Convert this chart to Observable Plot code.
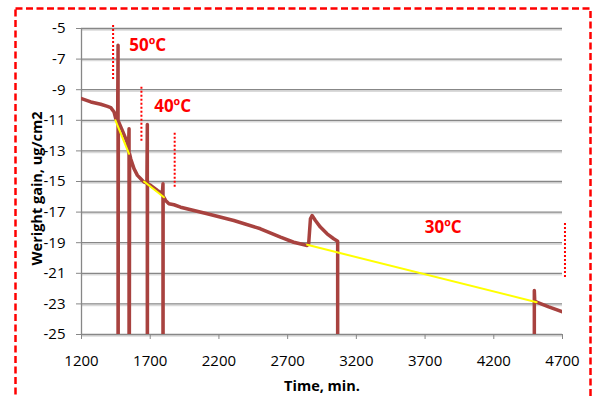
<!DOCTYPE html>
<html>
<head>
<meta charset="utf-8">
<script src="https://cdn.jsdelivr.net/npm/d3@7"></script>
<script src="https://cdn.jsdelivr.net/npm/@observablehq/plot@0.6"></script>
<style>
  html, body { margin: 0; padding: 0; background: #fff; overflow: hidden; }
  #chart svg { display: block; }
</style>
</head>
<body>
<div id="chart"></div>
<script>
// Axis ticks
const xTicks = [1200, 1700, 2200, 2700, 3200, 3700, 4200, 4700];
const yTicks = [-25, -23, -21, -19, -17, -15, -13, -11, -9, -7, -5];

// Measured series (time, min / weight gain, ug/cm2); -40 = off-scale low readings
const times = [1200, 1268, 1340, 1389, 1413, 1437, 1449, 1463, 1466, 1466, 1468, 1500, 1529, 1542, 1546, 1546, 1550, 1558, 1582, 1607, 1631, 1655, 1676, 1679, 1679, 1680, 1703, 1752, 1788, 1793, 1793, 1794, 1812, 1836, 1873, 1921, 2115, 2308, 2502, 2648, 2744, 2842, 2853, 2866, 2878, 2902, 2938, 2987, 3035, 3064, 3064, 4495, 4495, 4498, 4512, 4600, 4700];
const weights = [-9.58, -9.80, -9.95, -10.09, -10.17, -10.46, -10.89, -10.95, -6.09, -40, -11.05, -11.72, -12.37, -12.8, -11.55, -40, -13.2, -13.51, -14.16, -14.6, -14.82, -15.04, -15.1, -11.28, -40, -15.14, -15.25, -15.58, -15.8, -15.15, -40, -15.95, -16.24, -16.45, -16.52, -16.68, -17.11, -17.55, -18.09, -18.64, -18.97, -19.18, -19.07, -17.43, -17.22, -17.55, -17.98, -18.42, -18.74, -18.90, -40, -40, -22.13, -22.8, -22.89, -23.2, -23.52];

// Trend lines (yellow)
const trendT = [1447, 1546, 1655, 1800, 2842, 4512];
const trendW = [-11.0, -13.19, -15.0, -16.03, -19.14, -22.89];
const trendSeg = ["50", "50", "40", "40", "30", "30"];

// Temperature labels
const labelText = ["50ºC", "40ºC", "30ºC"];
const labelT = [1682, 1863, 3832];
const labelW = [-6.1, -10.1, -18.0];

// Red dotted markers
const markT = [1430, 1636, 1878, 4718];
const markTop = [-4.8, -8.84, -11.85, -17.74];
const markBottom = [-8.4, -12.5, -15.45, -21.34];

const series = times.map((t, i) => ({t, w: weights[i]}));
const trend = trendT.map((t, i) => ({t, w: trendW[i], seg: trendSeg[i]}));
const labels = labelText.map((s, i) => ({s, t: labelT[i], w: labelW[i]}));
const marks = markT.map((t, i) => ({t, y1: markTop[i], y2: markBottom[i]}));

const chart = Plot.plot({
  width: 594,
  height: 398,
  marginLeft: 81,
  marginRight: 32,
  marginTop: 28,
  marginBottom: 64,
  x: {domain: [1200, 4700]},
  y: {domain: [-25, -5]},
  style: {fontFamily: "'Open Sans', sans-serif", fontSize: "15px", color: "#000", background: "#fff"},
  marks: [
    Plot.frame({stroke: "#ff0000", strokeWidth: 2.5, strokeDasharray: "7,3.5", insetLeft: -66, insetTop: -20, insetRight: -28, insetBottom: -90}),
    Plot.ruleY(yTicks, {stroke: "#dadada", strokeWidth: 1.5, dy: 1.5}),
    Plot.ruleY(yTicks, {stroke: "#878787", strokeWidth: 1.3}),
    Plot.ruleX([1200], {stroke: "#878787", strokeWidth: 1.3}),
    Plot.axisY({ticks: yTicks, tickSize: 5, tickPadding: 11, tickFormat: d => String(d), stroke: "#878787", label: null, fontSize: 15}),
    Plot.axisX({ticks: xTicks, tickSize: 5, tickPadding: 16, tickFormat: d => String(d), stroke: "#878787", label: null, fontSize: 15}),
    Plot.line(series, {x: "t", y: "w", stroke: "#a8423f", strokeWidth: 3.5, clip: true}),
    Plot.line(trend, {x: "t", y: "w", z: "seg", stroke: "#ffff00", strokeWidth: 2}),
    Plot.ruleX(marks, {x: "t", y1: "y1", y2: "y2", stroke: "#ff0000", strokeWidth: 2, strokeDasharray: "2,2"}),
    Plot.text(labels, {x: "t", y: "w", text: "s", fill: "#ff0000", fontWeight: "bold", fontSize: 17}),
    Plot.text(["Weright gain, ug/cm2"], {frameAnchor: "left", textAnchor: "middle", lineAnchor: "middle", rotate: -90, dx: -44, dy: 7, fontWeight: "bold", fontSize: 14.5}),
    Plot.text(["Time, min."], {frameAnchor: "bottom", textAnchor: "middle", lineAnchor: "middle", dy: 52, fontWeight: "bold", fontSize: 14.5})
  ]
});
document.getElementById("chart").append(chart);
</script>
</body>
</html>
